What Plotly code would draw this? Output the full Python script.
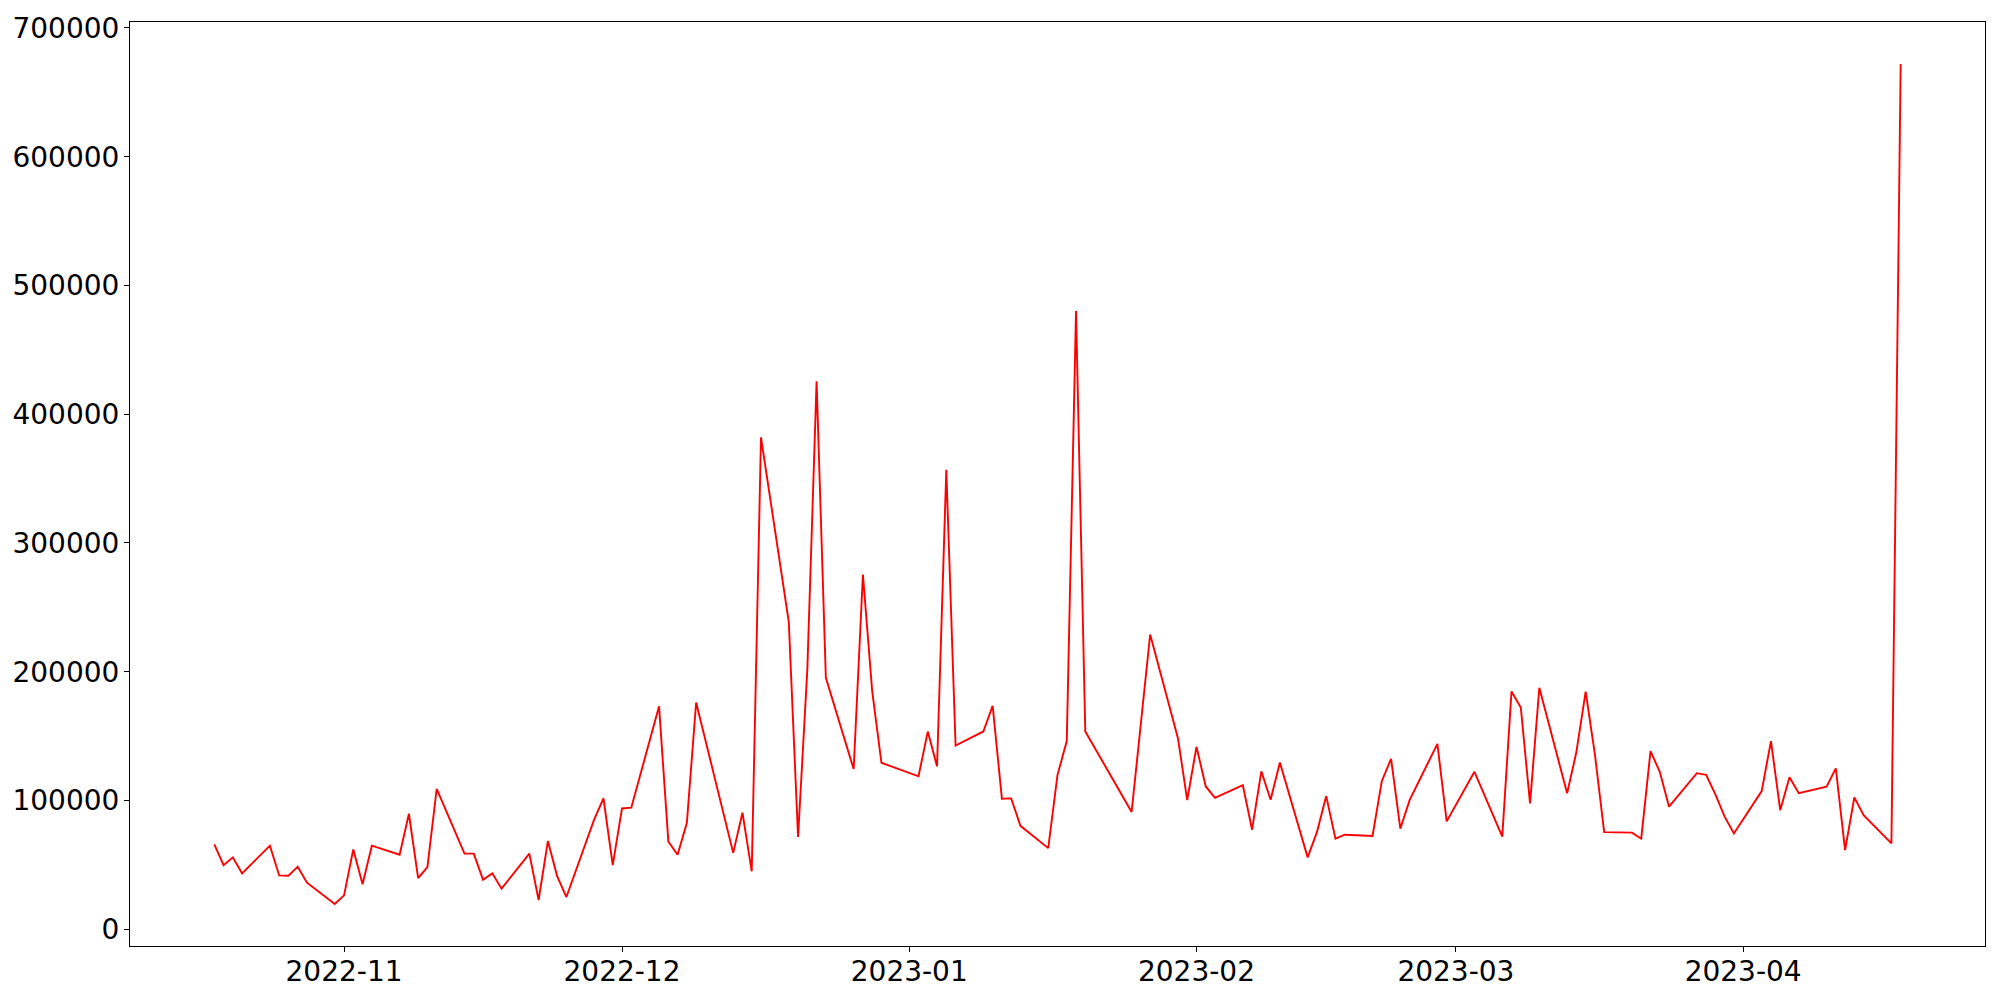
import pandas as pd
import plotly.graph_objects as go

dates = [
    "2022-10-18", "2022-10-19", "2022-10-20", "2022-10-21", "2022-10-24", "2022-10-25",
    "2022-10-26", "2022-10-27", "2022-10-28", "2022-10-31", "2022-11-01", "2022-11-02",
    "2022-11-03", "2022-11-04", "2022-11-07", "2022-11-08", "2022-11-09", "2022-11-10",
    "2022-11-11", "2022-11-14", "2022-11-15", "2022-11-16", "2022-11-17", "2022-11-18",
    "2022-11-21", "2022-11-22", "2022-11-23", "2022-11-24", "2022-11-25", "2022-11-28",
    "2022-11-29", "2022-11-30", "2022-12-01", "2022-12-02", "2022-12-05", "2022-12-06",
    "2022-12-07", "2022-12-08", "2022-12-09", "2022-12-12", "2022-12-13", "2022-12-14",
    "2022-12-15", "2022-12-16", "2022-12-19", "2022-12-20", "2022-12-21", "2022-12-22",
    "2022-12-23", "2022-12-26", "2022-12-27", "2022-12-28", "2022-12-29", "2023-01-02",
    "2023-01-03", "2023-01-04", "2023-01-05", "2023-01-06", "2023-01-09", "2023-01-10",
    "2023-01-11", "2023-01-12", "2023-01-13", "2023-01-16", "2023-01-17", "2023-01-18",
    "2023-01-19", "2023-01-20", "2023-01-25", "2023-01-27", "2023-01-30", "2023-01-31",
    "2023-02-01", "2023-02-02", "2023-02-03", "2023-02-06", "2023-02-07", "2023-02-08",
    "2023-02-09", "2023-02-10", "2023-02-13", "2023-02-14", "2023-02-15", "2023-02-16",
    "2023-02-17", "2023-02-20", "2023-02-21", "2023-02-22", "2023-02-23", "2023-02-24",
    "2023-02-27", "2023-02-28", "2023-03-03", "2023-03-06", "2023-03-07", "2023-03-08",
    "2023-03-09", "2023-03-10", "2023-03-13", "2023-03-14", "2023-03-15", "2023-03-16",
    "2023-03-17", "2023-03-20", "2023-03-21", "2023-03-22", "2023-03-23", "2023-03-24",
    "2023-03-27", "2023-03-28", "2023-03-29", "2023-03-30", "2023-03-31", "2023-04-03",
    "2023-04-04", "2023-04-05", "2023-04-06", "2023-04-07", "2023-04-10", "2023-04-11",
    "2023-04-12", "2023-04-13", "2023-04-14", "2023-04-17", "2023-04-18",
]

values = [
    65900, 49800, 55800, 43400, 64900, 41800,
    41600, 48600, 36200, 19600, 26300, 62000,
    34900, 64900, 57900, 89700, 39700, 48300,
    109100, 58700, 58700, 38500, 43400, 31500,
    58700, 22700, 68500, 41300, 25000, 85300,
    101600, 49800, 93800, 94400, 173100, 68200,
    57900, 82700, 176100, 87000, 59300, 90500,
    45000, 382000, 238700, 71600, 201700, 425500,
    195300, 124400, 275500, 185000, 129300, 118800,
    153500, 126500, 356800, 142700, 153600, 173600,
    101400, 101600, 80300, 63000, 119800, 146200,
    480100, 153600, 91100, 228900, 148400, 100300,
    141700, 110900, 102100, 111900, 77300, 122600,
    100600, 129500, 55800, 75400, 103400, 70300,
    73400, 72400, 115000, 132400, 78100, 100300,
    144000, 83800, 122300, 71900, 184700, 172200,
    97700, 187500, 105600, 137600, 184600, 135800,
    75400, 75000, 70300, 138300, 122300, 95200,
    121200, 120000, 104700, 87400, 74400, 107300,
    146100, 92500, 118100, 105700, 110700, 124900,
    61500, 102400, 88600, 66700, 672000,
]

y_ticks = [0, 100000, 200000, 300000, 400000, 500000, 600000, 700000]
x_ticks = ["2022-11-01", "2022-12-01", "2023-01-01", "2023-02-01", "2023-03-01", "2023-04-01"]
x_tick_labels = ["2022-11", "2022-12", "2023-01", "2023-02", "2023-03", "2023-04"]

dt = pd.to_datetime(dates)
span = dt.max() - dt.min()
x_range = [dt.min() - 0.05 * span, dt.max() + 0.05 * span]
vmin, vmax = min(values), max(values)
vspan = vmax - vmin
y_range = [vmin - 0.05 * vspan, vmax + 0.05 * vspan]

fig = go.Figure()
fig.add_trace(go.Scatter(
    x=dt, y=values, mode="lines",
    line=dict(color="red", width=1.9),
    showlegend=False,
))

font = dict(family="DejaVu Sans", size=28, color="black")
fig.update_layout(
    width=2000, height=1000,
    margin=dict(l=130, r=15, t=22, b=54, pad=0),
    plot_bgcolor="white", paper_bgcolor="white",
    font=font,
)
fig.update_xaxes(
    range=x_range, tickvals=pd.to_datetime(x_ticks), ticktext=x_tick_labels,
    showgrid=False, zeroline=False, automargin=False,
    showline=True, linecolor="black", linewidth=1.1, mirror=True,
    ticks="outside", ticklen=5, tickwidth=1.1, tickcolor="black",
    tickfont=font, ticklabelstandoff=-5,
)
fig.update_yaxes(
    range=y_range, tickvals=y_ticks, ticktext=[str(v) for v in y_ticks],
    showgrid=False, zeroline=False, automargin=False,
    showline=True, linecolor="black", linewidth=1.1, mirror=True,
    ticks="outside", ticklen=5, tickwidth=1.1, tickcolor="black",
    tickfont=font, ticklabelstandoff=-1,
)

fig.write_html(
    "out.html",
    config={"displayModeBar": False},
    post_script="document.body.style.margin='0';document.body.style.overflow='hidden';",
)
